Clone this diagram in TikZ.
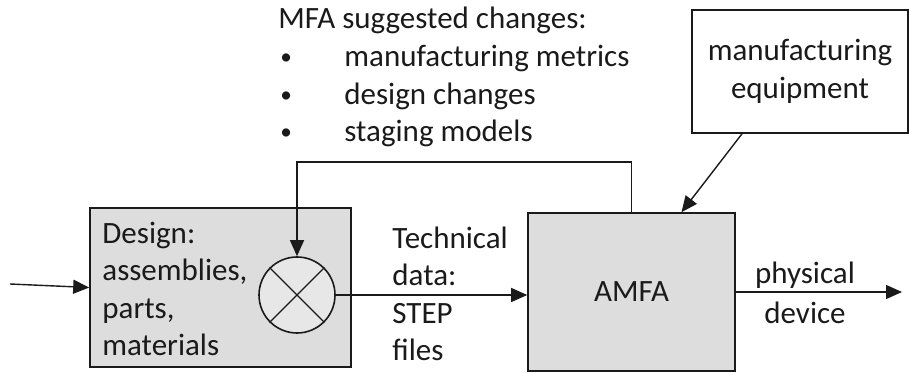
\documentclass[tikz,border=0pt]{standalone}
\usepackage{fontspec}
\setmainfont{Carlito}
\usepackage{tikz}
\usetikzlibrary{positioning,arrows.meta}

\definecolor{boxgray}{HTML}{DDDDDD}
\definecolor{inkblack}{HTML}{1A1A1A}

\newcommand{\bulletitem}{\makebox[33pt][l]{\hspace{1pt}\raisebox{1pt}{\scalebox{0.75}{\textbullet}}}}

\tikzset{
  every node/.style={font=\fontsize{15.5}{18.75}\selectfont, text=inkblack},
  blockbox/.style={draw=inkblack, line width=0.8pt, fill=boxgray, inner sep=0pt},
  plainbox/.style={draw=inkblack, line width=0.8pt, fill=white, align=center, inner sep=0pt},
  mixer/.style={draw=inkblack, line width=0.8pt, circle, fill=boxgray!70, minimum size=38pt, inner sep=0pt},
  flow/.style={draw=inkblack, line width=0.7pt, -{Triangle[length=8pt,width=7pt]}},
  txt/.style={align=left, inner sep=0pt}
}

\begin{document}
\begin{tikzpicture}[x=0.5pt,y=-0.5pt]
  \useasboundingbox (0,0) rectangle (909,373);

  % blocks
  \node[blockbox, minimum width=130.5pt, minimum height=79.5pt] (design) at (220.5,287.5) {};
  \node[blockbox, minimum width=103.5pt, minimum height=79pt] (amfa) at (631.5,292) {AMFA};
  \node[plainbox, minimum width=108pt, minimum height=61.5pt] (equip) at (800,71.5) {manufacturing\\equipment};
  \node[mixer] (mix) at (297,295) {};
  \draw[inkblack, line width=0.7pt] (mix.north west) -- (mix.south east)
                                    (mix.north east) -- (mix.south west);

  % texts
  \node[txt, anchor=west] (designtxt) at (102,289) {Design:\\assemblies,\\parts,\\materials};
  \node[txt, anchor=west] (techtxt) at (392,294) {Technical\\data:\\STEP\\files};
  \node[align=center, inner sep=0pt] (devtxt) at (805,293) {physical\\[1pt]device};
  \node[txt, anchor=north west, font=\fontsize{15.5}{18.8}\selectfont] (mfatxt) at (278,7)
    {MFA suggested changes:\\
     \bulletitem manufacturing metrics\\
     \bulletitem design changes\\
     \bulletitem staging models};

  % connectors
  \coordinate (in) at (10,284);
  \coordinate (out) at (902,292);
  \draw[flow] (in) -- (design.west);
  \draw[flow] (mix.east) -- (mix.east -| amfa.west);
  \draw[flow] (amfa.east) -- (out);
  \draw[flow] (amfa.north) -- ++(0,-50) -| (mix.north);
  \draw[flow] ([xshift=-29pt]equip.south) -- ([xshift=25pt]amfa.north);
\end{tikzpicture}
\end{document}
